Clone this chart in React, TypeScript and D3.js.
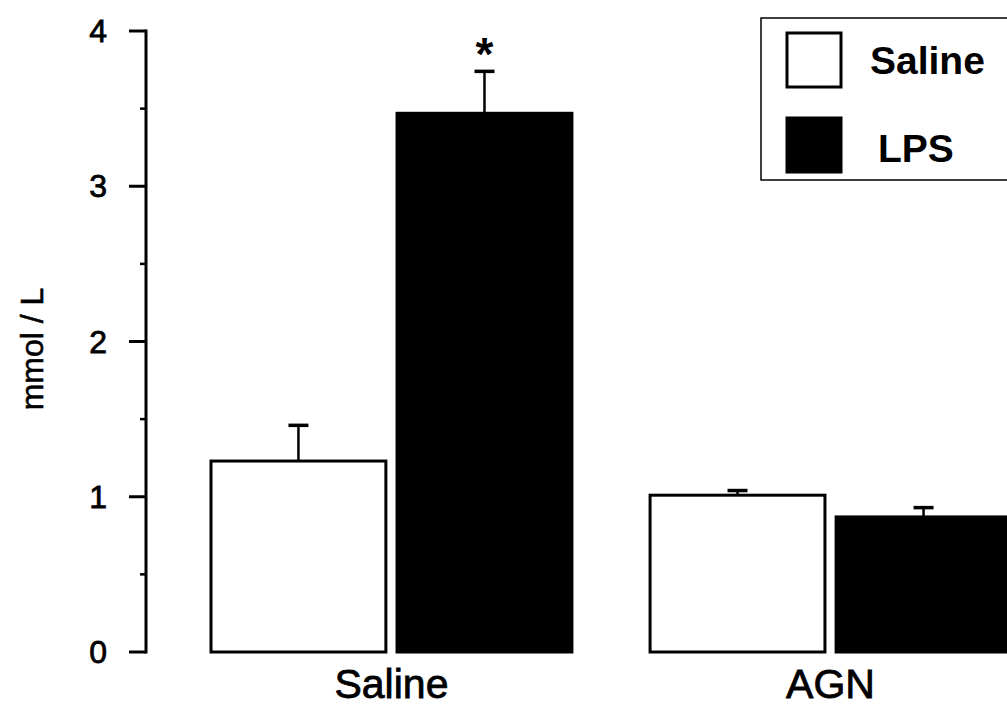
import React from "react";
import * as d3 from "d3";

const groups = ["Saline", "AGN"];
const series = ["Saline", "LPS"];
const salineMeans = [1.23, 1.01];
const salineErrors = [0.23, 0.03];
const lpsMeans = [3.47, 0.87];
const lpsErrors = [0.27, 0.06];
const significant = [[false, true], [false, false]];
const yTicks = [0, 1, 2, 3, 4];
const yMinorTicks = [0.5, 1.5, 2.5, 3.5];
const yLabel = "mmol / L";

const W = 1007;
const H = 706;
const FONT = "'Liberation Sans', Arial, Helvetica, sans-serif";

export default function App() {
  const y = d3.scaleLinear().domain([0, 4]).range([652, 31]);
  const x0 = d3.scaleBand<string>().domain(groups).range([211, 1011]).paddingInner(0.178).paddingOuter(0);
  const x1 = d3.scaleBand<string>().domain(series).range([0, x0.bandwidth()]).paddingInner(0.06);
  const axisX = 146;

  const data = groups.map((g, gi) => ({
    group: g,
    bars: [
      { s: series[0], mean: salineMeans[gi], err: salineErrors[gi], sig: significant[gi][0] },
      { s: series[1], mean: lpsMeans[gi], err: lpsErrors[gi], sig: significant[gi][1] },
    ],
  }));

  return (
    <svg width={W} height={H} style={{ position: "absolute", left: 0, top: 0, background: "#fff" }}>
      <rect x={0} y={0} width={W} height={H} fill="#fff" />
      {/* bars */}
      {data.map((d) => (
        <g key={d.group} transform={`translate(${x0(d.group)},0)`}>
          {d.bars.map((b, i) => {
            const bx = x1(b.s)!;
            const bw = x1.bandwidth();
            const cx = bx + bw / 2;
            const top = y(b.mean);
            const et = y(b.mean + b.err);
            return (
              <g key={b.s}>
                <line x1={cx} x2={cx} y1={top} y2={et} stroke="#000" strokeWidth={2.5} />
                <line x1={cx - 10} x2={cx + 10} y1={et} y2={et} stroke="#000" strokeWidth={3.5} />
                <rect
                  x={bx}
                  y={top}
                  width={bw}
                  height={y(0) - top}
                  fill={i === 0 ? "#fff" : "#000"}
                  stroke="#000"
                  strokeWidth={3}
                />
                {b.sig && (
                  <text x={cx} y={et - 1} textAnchor="middle" fontFamily={FONT} fontWeight="bold" fontSize={46}>
                    *
                  </text>
                )}
              </g>
            );
          })}
          <text
            x={x0.bandwidth() / 2}
            y={698}
            textAnchor="middle"
            fontFamily={FONT}
            fontSize={41}
            fill="#000"
            stroke="#000"
            strokeWidth={0.8}
          >
            {d.group}
          </text>
        </g>
      ))}
      {/* y axis */}
      <line x1={axisX} x2={axisX} y1={y(4) - 1.5} y2={y(0) + 1.5} stroke="#000" strokeWidth={3} />
      {yTicks.map((t) => (
        <g key={t}>
          <line x1={axisX - 17} x2={axisX} y1={y(t)} y2={y(t)} stroke="#000" strokeWidth={3} />
          <text
            x={107}
            y={y(t) + 11}
            textAnchor="end"
            fontFamily={FONT}
            fontSize={32}
            fill="#000"
            stroke="#000"
            strokeWidth={0.8}
          >
            {t}
          </text>
        </g>
      ))}
      {yMinorTicks.map((t) => (
        <line key={t} x1={axisX - 6} x2={axisX} y1={y(t)} y2={y(t)} stroke="#000" strokeWidth={2.5} />
      ))}
      <text
        transform={`translate(43,349) rotate(-90)`}
        textAnchor="middle"
        fontFamily={FONT}
        fontSize={32}
        fill="#000"
        stroke="#000"
        strokeWidth={0.6}
      >
        {yLabel}
      </text>
      {/* legend */}
      <rect x={761} y={18} width={300} height={162} fill="#fff" stroke="#000" strokeWidth={1.5} />
      {series.map((s, i) => (
        <g key={s}>
          <rect
            x={787}
            y={33 + i * 85}
            width={54}
            height={54}
            fill={i === 0 ? "#fff" : "#000"}
            stroke="#000"
            strokeWidth={3}
          />
          <text
            x={i === 0 ? 870 : 878}
            y={74 + i * 88}
            fontFamily={FONT}
            fontWeight="bold"
            fontSize={39}
            fill="#000"
          >
            {s}
          </text>
        </g>
      ))}
    </svg>
  );
}
